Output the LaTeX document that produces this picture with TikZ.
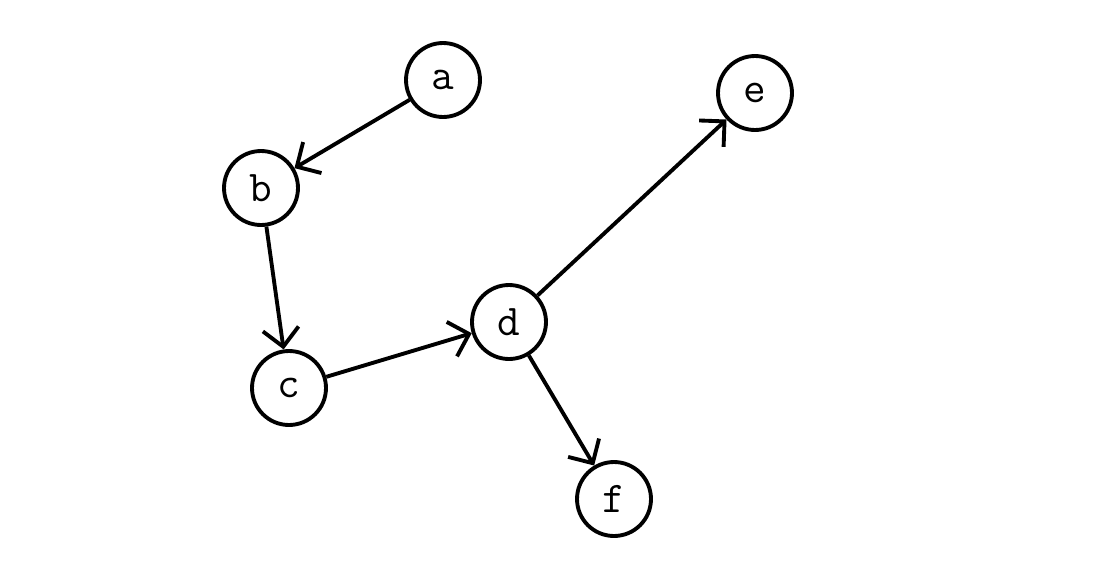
\documentclass[tikz,border=0pt]{standalone}
\usepackage{tikz}
\usetikzlibrary{arrows.meta, positioning}

\tikzset{
  vertex/.style={circle, draw, line width=2.2pt, minimum size=1.48cm, inner sep=0pt,
    font=\ttfamily\fontsize{25}{27}\selectfont},
  edge/.style={-{Straight Barb[length=0.36cm, width=0.72cm, line width=2.2pt]}, line width=2.2pt}
}

\begin{document}
\begin{tikzpicture}[x=0.02cm, y=-0.02cm]
    \useasboundingbox (0,0) rectangle (1119,582);
    % vertices
    \node[vertex] (a) at (443,80) {a};
    \node[vertex] (b) at (261,188) {b};
    \node[vertex] (c) at (289,388) {c};
    \node[vertex] (d) at (509,322) {d};
    \node[vertex] (e) at (755,93) {e};
    \node[vertex] (f) at (614,499) {f};
    % edges
    \foreach \u/\v in {a/b, b/c, c/d, d/e, d/f} {
      \draw[edge] (\u) -- (\v);
    }
  \end{tikzpicture}
\end{document}
